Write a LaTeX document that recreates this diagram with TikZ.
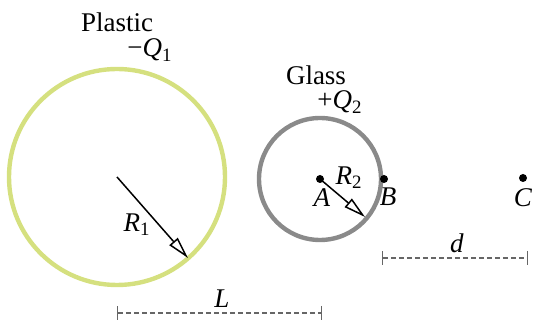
\documentclass[tikz,border=0pt]{standalone}
\usepackage{fontspec}
\setmainfont{Liberation Serif}
\usetikzlibrary{arrows.meta}
\begin{document}
\begin{tikzpicture}[x=0.5pt,y=-0.5pt,
  lbl/.style={font=\fontsize{13.5}{15}\selectfont,inner sep=0pt},
  radius arrow/.style={line width=0.75pt,-{Triangle[open,length=11pt,width=5.5pt]}},
  dimline/.style={gray!80!black,line width=0.55pt,dash pattern=on 2.5pt off 1.5pt,{Bar[width=7pt,line width=0.6pt]}-{Bar[width=7pt,line width=0.6pt]}},
  dot/.style={circle,fill=black,inner sep=0pt,minimum size=4pt}]
\definecolor{plasticcol}{HTML}{D5E07F}
\definecolor{glasscol}{HTML}{8A8A8A}
\useasboundingbox (0,0) rectangle (534,324);
% plastic sphere
\coordinate (O1) at (117,177);
\coordinate (E1) at (188,258);
\draw[plasticcol,line width=2.2pt] (O1) circle (108);
\draw[radius arrow] (O1) -- (E1);
\node[lbl] (plastic) at (117,22) {Plastic};
\node[lbl] (q1) at (150,50) {−\textit{Q}\textsubscript{1}};
\node[lbl] (r1) at (137,225) {\textit{R}\textsubscript{1}};
% glass sphere
\node[dot] (A) at (320,179) {};
\coordinate (E2) at (365,217);
\draw[glasscol,line width=2.2pt] (A) circle (61);
\draw[radius arrow] (A.center) -- (E2);
\node[lbl] (glass) at (316,75) {Glass};
\node[lbl] (q2) at (340,102) {+\textit{Q}\textsubscript{2}};
\node[lbl] (r2) at (349,178) {\textit{R}\textsubscript{2}};
\node[lbl] (lA) at (322,198) {\textit{A}};
% points B and C
\node[dot] (B) at (384,179) {};
\node[lbl] (lB) at (388,197) {\textit{B}};
\node[dot] (C) at (523,178) {};
\node[lbl] (lC) at (523,198) {\textit{C}};
% distances
\coordinate (L1) at (117,313);
\coordinate (L2) at (322,313);
\draw[dimline] (L1) -- (L2);
\node[lbl] (lL) at (222,299) {\textit{L}};
\coordinate (d1) at (382,258);
\coordinate (d2) at (528,258);
\draw[dimline] (d1) -- (d2);
\node[lbl] (ld) at (457,243) {\textit{d}};
\end{tikzpicture}
\end{document}
